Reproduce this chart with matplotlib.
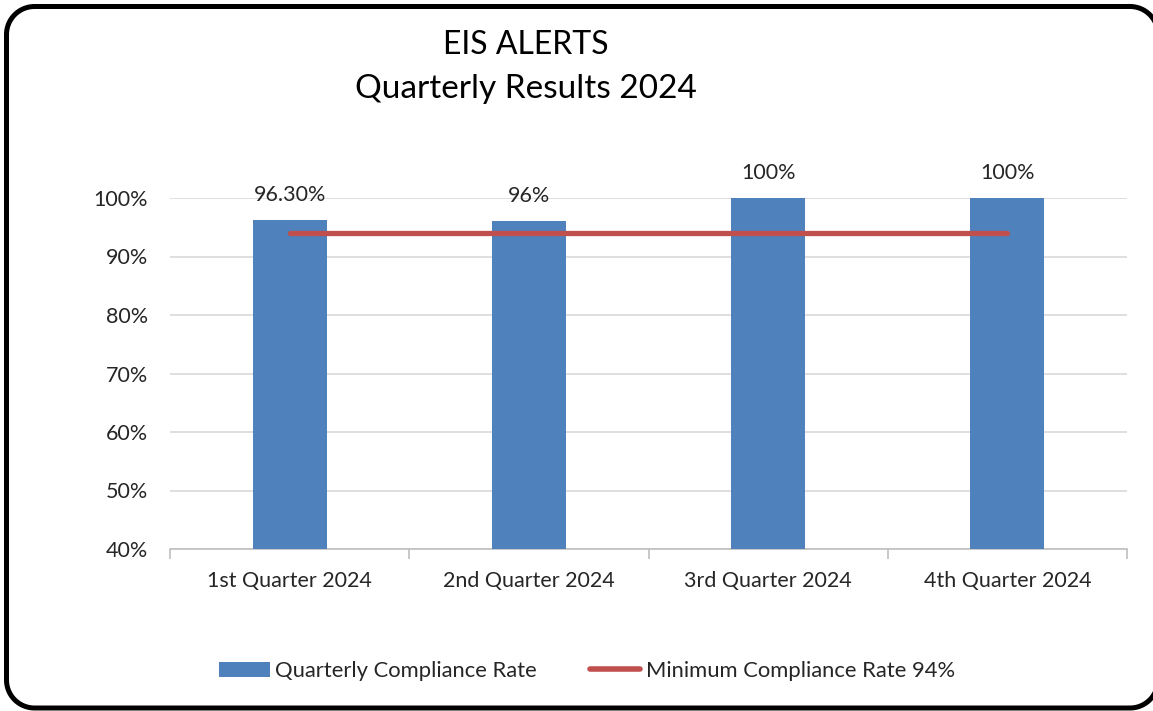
import matplotlib
matplotlib.use("Agg")
import matplotlib.pyplot as plt
from matplotlib.patches import Patch
from matplotlib.lines import Line2D
from matplotlib.transforms import IdentityTransform
from matplotlib.ticker import FuncFormatter
import numpy as np

categories = ["1st Quarter 2024", "2nd Quarter 2024", "3rd Quarter 2024", "4th Quarter 2024"]
compliance = [96.3, 96.0, 100.0, 100.0]
bar_labels = ["96.30%", "96%", "100%", "100%"]
minimum = [94, 94, 94, 94]
title_lines = ["EIS ALERTS", "Quarterly Results 2024"]
series_names = ["Quarterly Compliance Rate", "Minimum Compliance Rate 94%"]

plt.rcParams['font.family'] = ['Lato', 'DejaVu Sans']

W, H = 1153, 711
DPI = 100
fig = plt.figure(figsize=(W / DPI, H / DPI), dpi=DPI)

# rounded border built from straight segments (pixel coords, y measured from top)
bl, bt, br, bb, r = 6.5, 6.5, 1158, 708, 28
def arc(cx, cy, a0, a1, n=24):
    t = np.radians(np.linspace(a0, a1, n))
    return cx + r * np.cos(t), cy - r * np.sin(t)
segs = [arc(br - r, bt + r, 90, 0), arc(br - r, bb - r, 0, -90),
        arc(bl + r, bb - r, -90, -180), arc(bl + r, bt + r, 180, 90)]
bx = np.concatenate([s[0] for s in segs] + [[br - r]])
by = np.concatenate([s[1] for s in segs] + [[bt]])
fig.add_artist(Line2D(bx, H - by, transform=IdentityTransform(), color="black",
                      linewidth=3.6, solid_joinstyle="round", clip_on=False))

ax = fig.add_axes([170 / W, 1 - 549 / H, (1127 - 170) / W, (549 - 198) / H])
x = np.arange(len(categories))
bar_color = "#4F81BD"
line_color = "#C0504D"
ax.bar(x, compliance, width=0.31, color=bar_color, zorder=2)
ax.plot(x, minimum, color=line_color, linewidth=3.8, solid_capstyle="round", zorder=3)

for xi, v, lab in zip(x, compliance, bar_labels):
    ax.annotate(lab, (xi, v), xytext=(0, 18), textcoords="offset points",
                ha="center", va="center", fontsize=15.5, color="#262626")

ax.set_xlim(-0.5, len(categories) - 0.5)
ax.set_ylim(40, 100)
ax.set_yticks(np.arange(40, 101, 10))
ax.yaxis.set_major_formatter(FuncFormatter(lambda v, p: f"{v:.0f}%"))
ax.set_xticks(x)
ax.set_xticklabels(categories)
ax.set_xticks(np.arange(-0.5, len(categories), 1), minor=True)
ax.tick_params(axis="x", which="major", length=0, pad=16, labelsize=15.5, labelcolor="#262626")
ax.tick_params(axis="x", which="minor", length=7, color="#BFBFBF", width=1.2)
ax.tick_params(axis="y", length=0, pad=16, labelsize=15.5, labelcolor="#262626")
ax.grid(axis="y", color="#D9D9D9", linewidth=1.2, zorder=0)
ax.set_axisbelow(True)
for s in ["top", "right", "left"]:
    ax.spines[s].set_visible(False)
ax.spines["bottom"].set_color("#BFBFBF")
ax.spines["bottom"].set_linewidth(1.2)
ax.spines["bottom"].set_zorder(1)

fig.text(526 / W, 1 - 45 / H, title_lines[0], ha="center", va="center", fontsize=23, color="black")
fig.text(526 / W, 1 - 89 / H, title_lines[1], ha="center", va="center", fontsize=24, color="black")

handles = [Patch(facecolor=bar_color, edgecolor="none"),
           Line2D([0], [0], color=line_color, linewidth=4, solid_capstyle="round")]
fig.legend(handles, series_names, loc="center", bbox_to_anchor=(587 / W, 1 - 671 / H),
           ncol=2, frameon=False, fontsize=15.8, handlelength=2.3, handleheight=0.7,
           handletextpad=0.25, columnspacing=2.4, labelcolor="#262626")

fig.savefig("out.png", dpi=DPI)
